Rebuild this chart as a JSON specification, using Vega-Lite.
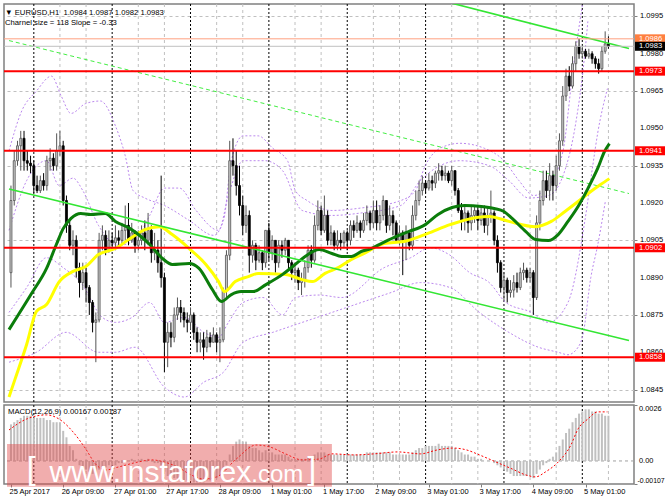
{
"$schema":"https://vega.github.io/schema/vega-lite/v6.json",
"padding":{"left":2,"top":2,"right":0,"bottom":0},
"background":"white",
"spacing":3,
"bounds":"flush",
"config":{"view":{"stroke":"#808080","strokeWidth":1.5},"font":"Liberation Sans",
"axis":{"labelFont":"Liberation Sans","labelColor":"#000","domain":false,"tickColor":"#808080","tickSize":3,"labelFontSize":7.6,"title":null}},
"datasets":{
"candles":[
{"i":0,"o":1.0892,"h":1.0927,"l":1.0886,"c":1.0921,"m":0.0017},
{"i":1,"o":1.0921,"h":1.0941,"l":1.0919,"c":1.0937,"m":0.0018},
{"i":2,"o":1.0937,"h":1.0945,"l":1.0935,"c":1.0943,"m":0.0019},
{"i":3,"o":1.0943,"h":1.0949,"l":1.0933,"c":1.0946,"m":0.0020},
{"i":4,"o":1.0946,"h":1.0949,"l":1.0933,"c":1.0937,"m":0.0021},
{"i":5,"o":1.0937,"h":1.0941,"l":1.0933,"c":1.0936,"m":0.0021},
{"i":6,"o":1.0936,"h":1.0939,"l":1.0932,"c":1.0935,"m":0.0021},
{"i":7,"o":1.0935,"h":1.0937,"l":1.0924,"c":1.0927,"m":0.0020},
{"i":8,"o":1.0927,"h":1.0931,"l":1.0924,"c":1.0925,"m":0.0020},
{"i":9,"o":1.0925,"h":1.0931,"l":1.0924,"c":1.0929,"m":0.0020},
{"i":10,"o":1.0929,"h":1.0932,"l":1.0925,"c":1.0927,"m":0.0020},
{"i":11,"o":1.0927,"h":1.0939,"l":1.0925,"c":1.0937,"m":0.0019},
{"i":12,"o":1.0937,"h":1.0942,"l":1.0933,"c":1.0938,"m":0.0019},
{"i":13,"o":1.0938,"h":1.0940,"l":1.0933,"c":1.0935,"m":0.0018},
{"i":14,"o":1.0935,"h":1.0948,"l":1.0933,"c":1.0941,"m":0.0018},
{"i":15,"o":1.0941,"h":1.0949,"l":1.0939,"c":1.0943,"m":0.0018},
{"i":16,"o":1.0943,"h":1.0945,"l":1.0919,"c":1.0921,"m":0.0014},
{"i":17,"o":1.0921,"h":1.0923,"l":1.0908,"c":1.0911,"m":0.0011},
{"i":18,"o":1.0911,"h":1.0913,"l":1.0901,"c":1.0903,"m":0.0007},
{"i":19,"o":1.0903,"h":1.0909,"l":1.0899,"c":1.0905,"m":0.0005},
{"i":20,"o":1.0905,"h":1.0907,"l":1.0890,"c":1.0894,"m":0.0001},
{"i":21,"o":1.0894,"h":1.0896,"l":1.0882,"c":1.0888,"m":-0.0002},
{"i":22,"o":1.0888,"h":1.0896,"l":1.0885,"c":1.0892,"m":-0.0003},
{"i":23,"o":1.0892,"h":1.0894,"l":1.0880,"c":1.0886,"m":-0.0004},
{"i":24,"o":1.0886,"h":1.0887,"l":1.0875,"c":1.0880,"m":-0.0005},
{"i":25,"o":1.0880,"h":1.0881,"l":1.0868,"c":1.0872,"m":-0.0006},
{"i":26,"o":1.0872,"h":1.0876,"l":1.0856,"c":1.0873,"m":-0.0006},
{"i":27,"o":1.0873,"h":1.0908,"l":1.0872,"c":1.0905,"m":-0.0004},
{"i":28,"o":1.0905,"h":1.0911,"l":1.0901,"c":1.0907,"m":-0.0003},
{"i":29,"o":1.0907,"h":1.0909,"l":1.0899,"c":1.0901,"m":-0.0003},
{"i":30,"o":1.0901,"h":1.0909,"l":1.0900,"c":1.0905,"m":-0.0002},
{"i":31,"o":1.0905,"h":1.0908,"l":1.0901,"c":1.0904,"m":-0.0002},
{"i":32,"o":1.0904,"h":1.0911,"l":1.0901,"c":1.0906,"m":-0.0002},
{"i":33,"o":1.0906,"h":1.0909,"l":1.0902,"c":1.0905,"m":-0.0001},
{"i":34,"o":1.0905,"h":1.0912,"l":1.0903,"c":1.0909,"m":-0.0001},
{"i":35,"o":1.0909,"h":1.0919,"l":1.0905,"c":1.0911,"m":0},
{"i":36,"o":1.0911,"h":1.0920,"l":1.0903,"c":1.0905,"m":0},
{"i":37,"o":1.0905,"h":1.0912,"l":1.0904,"c":1.0908,"m":0.0001},
{"i":38,"o":1.0908,"h":1.0909,"l":1.0900,"c":1.0903,"m":0},
{"i":39,"o":1.0903,"h":1.0909,"l":1.0901,"c":1.0905,"m":0},
{"i":40,"o":1.0905,"h":1.0911,"l":1.0903,"c":1.0908,"m":0.0001},
{"i":41,"o":1.0908,"h":1.0913,"l":1.0901,"c":1.0905,"m":0},
{"i":42,"o":1.0905,"h":1.0916,"l":1.0903,"c":1.0909,"m":0.0001},
{"i":43,"o":1.0909,"h":1.0911,"l":1.0896,"c":1.0900,"m":0},
{"i":44,"o":1.0900,"h":1.0908,"l":1.0897,"c":1.0901,"m":-0.0001},
{"i":45,"o":1.0901,"h":1.0905,"l":1.0892,"c":1.0896,"m":-0.0001},
{"i":46,"o":1.0896,"h":1.0931,"l":1.0886,"c":1.0890,"m":-0.0002},
{"i":47,"o":1.0890,"h":1.0892,"l":1.0852,"c":1.0864,"m":-0.0005},
{"i":48,"o":1.0864,"h":1.0872,"l":1.0854,"c":1.0868,"m":-0.0007},
{"i":49,"o":1.0868,"h":1.0872,"l":1.0862,"c":1.0866,"m":-0.0008},
{"i":50,"o":1.0866,"h":1.0878,"l":1.0864,"c":1.0875,"m":-0.0008},
{"i":51,"o":1.0875,"h":1.0882,"l":1.0873,"c":1.0878,"m":-0.0008},
{"i":52,"o":1.0878,"h":1.0881,"l":1.0872,"c":1.0876,"m":-0.0009},
{"i":53,"o":1.0876,"h":1.0878,"l":1.0870,"c":1.0873,"m":-0.0009},
{"i":54,"o":1.0873,"h":1.0876,"l":1.0868,"c":1.0872,"m":-0.0009},
{"i":55,"o":1.0872,"h":1.0878,"l":1.0869,"c":1.0875,"m":-0.0009},
{"i":56,"o":1.0875,"h":1.0876,"l":1.0865,"c":1.0868,"m":-0.0010},
{"i":57,"o":1.0868,"h":1.0870,"l":1.0860,"c":1.0864,"m":-0.0010},
{"i":58,"o":1.0864,"h":1.0868,"l":1.0860,"c":1.0865,"m":-0.0010},
{"i":59,"o":1.0865,"h":1.0868,"l":1.0857,"c":1.0862,"m":-0.0010},
{"i":60,"o":1.0862,"h":1.0869,"l":1.0860,"c":1.0866,"m":-0.0009},
{"i":61,"o":1.0866,"h":1.0868,"l":1.0862,"c":1.0864,"m":-0.0009},
{"i":62,"o":1.0864,"h":1.0870,"l":1.0864,"c":1.0867,"m":-0.0008},
{"i":63,"o":1.0867,"h":1.0868,"l":1.0860,"c":1.0864,"m":-0.0008},
{"i":64,"o":1.0864,"h":1.0870,"l":1.0856,"c":1.0865,"m":-0.0007},
{"i":65,"o":1.0865,"h":1.0886,"l":1.0864,"c":1.0885,"m":-0.0005},
{"i":66,"o":1.0885,"h":1.0901,"l":1.0882,"c":1.0899,"m":-0.0002},
{"i":67,"o":1.0899,"h":1.0945,"l":1.0897,"c":1.0937,"m":0.0003},
{"i":68,"o":1.0937,"h":1.0946,"l":1.0931,"c":1.0935,"m":0.0007},
{"i":69,"o":1.0935,"h":1.0941,"l":1.0923,"c":1.0927,"m":0.0009},
{"i":70,"o":1.0927,"h":1.0935,"l":1.0915,"c":1.0919,"m":0.0010},
{"i":71,"o":1.0919,"h":1.0923,"l":1.0907,"c":1.0911,"m":0.0009},
{"i":72,"o":1.0911,"h":1.0919,"l":1.0908,"c":1.0915,"m":0.0009},
{"i":73,"o":1.0915,"h":1.0917,"l":1.0892,"c":1.0899,"m":0.0007},
{"i":74,"o":1.0899,"h":1.0905,"l":1.0896,"c":1.0903,"m":0.0006},
{"i":75,"o":1.0903,"h":1.0904,"l":1.0893,"c":1.0897,"m":0.0006},
{"i":76,"o":1.0897,"h":1.0903,"l":1.0896,"c":1.0900,"m":0.0005},
{"i":77,"o":1.0900,"h":1.0901,"l":1.0893,"c":1.0896,"m":0.0004},
{"i":78,"o":1.0896,"h":1.0909,"l":1.0894,"c":1.0909,"m":0.0005},
{"i":79,"o":1.0909,"h":1.0912,"l":1.0897,"c":1.0900,"m":0.0004},
{"i":80,"o":1.0900,"h":1.0907,"l":1.0897,"c":1.0905,"m":0.0004},
{"i":81,"o":1.0905,"h":1.0905,"l":1.0892,"c":1.0896,"m":0.0003},
{"i":82,"o":1.0896,"h":1.0905,"l":1.0894,"c":1.0903,"m":0.0003},
{"i":83,"o":1.0903,"h":1.0905,"l":1.0898,"c":1.0901,"m":0.0003},
{"i":84,"o":1.0901,"h":1.0906,"l":1.0899,"c":1.0905,"m":0.0003},
{"i":85,"o":1.0905,"h":1.0905,"l":1.0893,"c":1.0896,"m":0.0002},
{"i":86,"o":1.0896,"h":1.0897,"l":1.0889,"c":1.0892,"m":0.0001},
{"i":87,"o":1.0892,"h":1.0896,"l":1.0888,"c":1.0893,"m":0.0001},
{"i":88,"o":1.0893,"h":1.0894,"l":1.0885,"c":1.0888,"m":0.0001},
{"i":89,"o":1.0888,"h":1.0892,"l":1.0883,"c":1.0889,"m":0.0001},
{"i":90,"o":1.0889,"h":1.0897,"l":1.0886,"c":1.0894,"m":0.0001},
{"i":91,"o":1.0894,"h":1.0903,"l":1.0892,"c":1.0901,"m":0.0002},
{"i":92,"o":1.0901,"h":1.0903,"l":1.0894,"c":1.0897,"m":0.0002},
{"i":93,"o":1.0897,"h":1.0915,"l":1.0896,"c":1.0911,"m":0.0003},
{"i":94,"o":1.0911,"h":1.0921,"l":1.0909,"c":1.0917,"m":0.0004},
{"i":95,"o":1.0917,"h":1.0919,"l":1.0907,"c":1.0909,"m":0.0004},
{"i":96,"o":1.0909,"h":1.0923,"l":1.0908,"c":1.0915,"m":0.0004},
{"i":97,"o":1.0915,"h":1.0917,"l":1.0903,"c":1.0905,"m":0.0003},
{"i":98,"o":1.0905,"h":1.0911,"l":1.0903,"c":1.0908,"m":0.0003},
{"i":99,"o":1.0908,"h":1.0909,"l":1.0901,"c":1.0903,"m":0.0003},
{"i":100,"o":1.0903,"h":1.0909,"l":1.0901,"c":1.0905,"m":0.0003},
{"i":101,"o":1.0905,"h":1.0908,"l":1.0901,"c":1.0904,"m":0.0003},
{"i":102,"o":1.0904,"h":1.0909,"l":1.0902,"c":1.0908,"m":0.0003},
{"i":103,"o":1.0908,"h":1.0909,"l":1.0901,"c":1.0905,"m":0.0003},
{"i":104,"o":1.0905,"h":1.0913,"l":1.0903,"c":1.0911,"m":0.0003},
{"i":105,"o":1.0911,"h":1.0913,"l":1.0906,"c":1.0909,"m":0.0003},
{"i":106,"o":1.0909,"h":1.0915,"l":1.0908,"c":1.0912,"m":0.0003},
{"i":107,"o":1.0912,"h":1.0913,"l":1.0906,"c":1.0909,"m":0.0003},
{"i":108,"o":1.0909,"h":1.0916,"l":1.0908,"c":1.0913,"m":0.0003},
{"i":109,"o":1.0913,"h":1.0919,"l":1.0911,"c":1.0916,"m":0.0004},
{"i":110,"o":1.0916,"h":1.0917,"l":1.0909,"c":1.0912,"m":0.0004},
{"i":111,"o":1.0912,"h":1.0921,"l":1.0910,"c":1.0917,"m":0.0004},
{"i":112,"o":1.0917,"h":1.0921,"l":1.0909,"c":1.0912,"m":0.0004},
{"i":113,"o":1.0912,"h":1.0919,"l":1.0909,"c":1.0915,"m":0.0004},
{"i":114,"o":1.0915,"h":1.0923,"l":1.0913,"c":1.0921,"m":0.0004},
{"i":115,"o":1.0921,"h":1.0921,"l":1.0908,"c":1.0911,"m":0.0004},
{"i":116,"o":1.0911,"h":1.0919,"l":1.0909,"c":1.0915,"m":0.0004},
{"i":117,"o":1.0915,"h":1.0917,"l":1.0907,"c":1.0912,"m":0.0003},
{"i":118,"o":1.0912,"h":1.0913,"l":1.0904,"c":1.0905,"m":0.0003},
{"i":119,"o":1.0905,"h":1.0911,"l":1.0903,"c":1.0908,"m":0.0003},
{"i":120,"o":1.0908,"h":1.0909,"l":1.0891,"c":1.0905,"m":0.0003},
{"i":121,"o":1.0905,"h":1.0911,"l":1.0897,"c":1.0908,"m":0.0003},
{"i":122,"o":1.0908,"h":1.0909,"l":1.0901,"c":1.0903,"m":0.0003},
{"i":123,"o":1.0903,"h":1.0919,"l":1.0901,"c":1.0915,"m":0.0004},
{"i":124,"o":1.0915,"h":1.0925,"l":1.0913,"c":1.0921,"m":0.0005},
{"i":125,"o":1.0921,"h":1.0929,"l":1.0919,"c":1.0925,"m":0.0006},
{"i":126,"o":1.0925,"h":1.0931,"l":1.0923,"c":1.0928,"m":0.0006},
{"i":127,"o":1.0928,"h":1.0929,"l":1.0924,"c":1.0926,"m":0.0007},
{"i":128,"o":1.0926,"h":1.0932,"l":1.0925,"c":1.0929,"m":0.0007},
{"i":129,"o":1.0929,"h":1.0931,"l":1.0925,"c":1.0928,"m":0.0007},
{"i":130,"o":1.0928,"h":1.0933,"l":1.0926,"c":1.0932,"m":0.0007},
{"i":131,"o":1.0932,"h":1.0936,"l":1.0929,"c":1.0933,"m":0.0008},
{"i":132,"o":1.0933,"h":1.0935,"l":1.0929,"c":1.0931,"m":0.0007},
{"i":133,"o":1.0931,"h":1.0935,"l":1.0929,"c":1.0932,"m":0.0007},
{"i":134,"o":1.0932,"h":1.0933,"l":1.0928,"c":1.0929,"m":0.0007},
{"i":135,"o":1.0929,"h":1.0935,"l":1.0927,"c":1.0933,"m":0.0007},
{"i":136,"o":1.0933,"h":1.0933,"l":1.0923,"c":1.0925,"m":0.0006},
{"i":137,"o":1.0925,"h":1.0926,"l":1.0916,"c":1.0917,"m":0.0005},
{"i":138,"o":1.0917,"h":1.0920,"l":1.0909,"c":1.0913,"m":0.0004},
{"i":139,"o":1.0913,"h":1.0919,"l":1.0909,"c":1.0916,"m":0.0003},
{"i":140,"o":1.0916,"h":1.0917,"l":1.0908,"c":1.0912,"m":0.0003},
{"i":141,"o":1.0912,"h":1.0919,"l":1.0909,"c":1.0915,"m":0.0002},
{"i":142,"o":1.0915,"h":1.0919,"l":1.0912,"c":1.0917,"m":0.0002},
{"i":143,"o":1.0917,"h":1.0919,"l":1.0909,"c":1.0913,"m":0.0001},
{"i":144,"o":1.0913,"h":1.0919,"l":1.0911,"c":1.0916,"m":0.0001},
{"i":145,"o":1.0916,"h":1.0919,"l":1.0908,"c":1.0911,"m":0},
{"i":146,"o":1.0911,"h":1.0918,"l":1.0907,"c":1.0915,"m":0},
{"i":147,"o":1.0915,"h":1.0925,"l":1.0912,"c":1.0916,"m":0},
{"i":148,"o":1.0916,"h":1.0917,"l":1.0903,"c":1.0905,"m":-0.0001},
{"i":149,"o":1.0905,"h":1.0907,"l":1.0892,"c":1.0896,"m":-0.0002},
{"i":150,"o":1.0896,"h":1.0897,"l":1.0884,"c":1.0886,"m":-0.0003},
{"i":151,"o":1.0886,"h":1.0892,"l":1.0881,"c":1.0889,"m":-0.0004},
{"i":152,"o":1.0889,"h":1.0890,"l":1.0880,"c":1.0884,"m":-0.0005},
{"i":153,"o":1.0884,"h":1.0889,"l":1.0882,"c":1.0885,"m":-0.0006},
{"i":154,"o":1.0885,"h":1.0891,"l":1.0882,"c":1.0888,"m":-0.0007},
{"i":155,"o":1.0888,"h":1.0892,"l":1.0884,"c":1.0886,"m":-0.0007},
{"i":156,"o":1.0886,"h":1.0894,"l":1.0885,"c":1.0892,"m":-0.0007},
{"i":157,"o":1.0892,"h":1.0896,"l":1.0889,"c":1.0893,"m":-0.0007},
{"i":158,"o":1.0893,"h":1.0894,"l":1.0888,"c":1.0890,"m":-0.0007},
{"i":159,"o":1.0890,"h":1.0894,"l":1.0888,"c":1.0892,"m":-0.0007},
{"i":160,"o":1.0892,"h":1.0893,"l":1.0875,"c":1.0882,"m":-0.0008},
{"i":161,"o":1.0882,"h":1.0915,"l":1.0881,"c":1.0912,"m":-0.0006},
{"i":162,"o":1.0912,"h":1.0925,"l":1.0909,"c":1.0921,"m":-0.0004},
{"i":163,"o":1.0921,"h":1.0933,"l":1.0919,"c":1.0929,"m":-0.0002},
{"i":164,"o":1.0929,"h":1.0933,"l":1.0922,"c":1.0925,"m":-0.0001},
{"i":165,"o":1.0925,"h":1.0936,"l":1.0921,"c":1.0931,"m":0.0001},
{"i":166,"o":1.0931,"h":1.0933,"l":1.0921,"c":1.0927,"m":0.0002},
{"i":167,"o":1.0927,"h":1.0939,"l":1.0925,"c":1.0935,"m":0.0004},
{"i":168,"o":1.0935,"h":1.0948,"l":1.0933,"c":1.0945,"m":0.0007},
{"i":169,"o":1.0945,"h":1.0967,"l":1.0943,"c":1.0963,"m":0.0010},
{"i":170,"o":1.0963,"h":1.0974,"l":1.0961,"c":1.0971,"m":0.0013},
{"i":171,"o":1.0971,"h":1.0975,"l":1.0965,"c":1.0967,"m":0.0015},
{"i":172,"o":1.0967,"h":1.0979,"l":1.0966,"c":1.0976,"m":0.0018},
{"i":173,"o":1.0976,"h":1.0985,"l":1.0973,"c":1.0983,"m":0.0020},
{"i":174,"o":1.0983,"h":1.0986,"l":1.0978,"c":1.0980,"m":0.0022},
{"i":175,"o":1.0980,"h":1.0983,"l":1.0978,"c":1.0981,"m":0.0023},
{"i":176,"o":1.0981,"h":1.0982,"l":1.0978,"c":1.0979,"m":0.0024},
{"i":177,"o":1.0979,"h":1.0982,"l":1.0978,"c":1.0980,"m":0.0024},
{"i":178,"o":1.0980,"h":1.0981,"l":1.0976,"c":1.0978,"m":0.0023},
{"i":179,"o":1.0978,"h":1.0979,"l":1.0974,"c":1.0976,"m":0.0023},
{"i":180,"o":1.0976,"h":1.0978,"l":1.0972,"c":1.0974,"m":0.0022},
{"i":181,"o":1.0974,"h":1.0983,"l":1.0973,"c":1.0981,"m":0.0022},
{"i":182,"o":1.0981,"h":1.0989,"l":1.0980,"c":1.0984,"m":0.0021},
{"i":183,"o":1.0984,"h":1.0987,"l":1.0982,"c":1.0983,"m":0.0021}
],
"vg":[{"i":7},{"i":15},{"i":23},{"i":31},{"i":39},{"i":47},{"i":55},{"i":63},{"i":71},{"i":79},{"i":87},{"i":95},{"i":103},{"i":111},{"i":119},{"i":127},{"i":135},{"i":143},{"i":151},{"i":159},{"i":167},{"i":175},{"i":183}],
"yt":[{"v":1.0845},{"v":1.086},{"v":1.0875},{"v":1.089},{"v":1.0905},{"v":1.092},{"v":1.0935},{"v":1.095},{"v":1.0965},{"v":1.098},{"v":1.0995}],
"mtop":[{"v":0.0026,"t":"0.0026"}],
"mmid":[{"v":0,"t":"0.00"}],
"mbot":[{"v":-0.00107,"t":"-0.00107"}],
"lv":[{"p":1.0973},{"p":1.0941},{"p":1.0902},{"p":1.0858}],
"px":[{"k":"ask","p":1.0986},{"k":"bid","p":1.0983}],
"ch":[{"s":"low","i":-0.6,"p":1.09256},{"s":"low","i":189.3,"p":1.08647},{"s":"up","i":133,"p":1.1001},{"s":"up","i":189.3,"p":1.09821}],
"chd":[{"i":-0.6,"p":1.09853},{"i":189.3,"p":1.09238}],
"ma1":[{"i":-0.6,"p":1.08691},{"i":6.3,"p":1.08836},{"i":10.9,"p":1.08937},{"i":13.9,"p":1.09033},{"i":16.0,"p":1.09097},{"i":18.4,"p":1.09138},{"i":21.4,"p":1.09158},{"i":24.4,"p":1.09154},{"i":28.9,"p":1.09158},{"i":32.0,"p":1.09126},{"i":36.5,"p":1.09097},{"i":42.5,"p":1.09033},{"i":46.4,"p":1.08977},{"i":49.4,"p":1.08953},{"i":54.6,"p":1.08957},{"i":57.6,"p":1.08937},{"i":61.5,"p":1.08856},{"i":64.5,"p":1.08804},{"i":67.5,"p":1.08832},{"i":70.5,"p":1.08844},{"i":74.2,"p":1.08844},{"i":78.1,"p":1.08872},{"i":83.2,"p":1.08913},{"i":87.1,"p":1.08953},{"i":90.1,"p":1.08985},{"i":94.4,"p":1.09013},{"i":98.3,"p":1.08997},{"i":101.3,"p":1.08985},{"i":104.3,"p":1.08985},{"i":107.3,"p":1.09005},{"i":110.3,"p":1.09017},{"i":113.4,"p":1.09037},{"i":117.9,"p":1.09065},{"i":121.8,"p":1.09085},{"i":126.9,"p":1.09113},{"i":130.8,"p":1.09154},{"i":135.1,"p":1.09182},{"i":139.0,"p":1.0919},{"i":144.1,"p":1.09186},{"i":148.0,"p":1.09178},{"i":151.0,"p":1.09166},{"i":153.5,"p":1.09138},{"i":157.7,"p":1.09085},{"i":160.7,"p":1.09053},{"i":164.6,"p":1.09049},{"i":167.6,"p":1.09073},{"i":170.6,"p":1.09126},{"i":173.7,"p":1.09186},{"i":176.7,"p":1.09258},{"i":179.7,"p":1.09339},{"i":181.8,"p":1.09407},{"i":183.3,"p":1.09439}],
"ma2":[{"i":-0.6,"p":1.0842},{"i":1.2,"p":1.0849},{"i":4.8,"p":1.08631},{"i":7.8,"p":1.08764},{"i":10.9,"p":1.08792},{"i":14.8,"p":1.08884},{"i":19.0,"p":1.08925},{"i":22.9,"p":1.08945},{"i":26.8,"p":1.08993},{"i":32.0,"p":1.09017},{"i":36.5,"p":1.09057},{"i":41.0,"p":1.09093},{"i":45.5,"p":1.09105},{"i":49.4,"p":1.09073},{"i":54.6,"p":1.09017},{"i":59.7,"p":1.08953},{"i":63.6,"p":1.08884},{"i":65.4,"p":1.08844},{"i":68.7,"p":1.08884},{"i":72.7,"p":1.08904},{"i":75.7,"p":1.08917},{"i":84.1,"p":1.08913},{"i":89.2,"p":1.08892},{"i":92.3,"p":1.08884},{"i":96.2,"p":1.08917},{"i":100.4,"p":1.08941},{"i":104.3,"p":1.08973},{"i":108.2,"p":1.08997},{"i":114.3,"p":1.09037},{"i":120.3,"p":1.09045},{"i":127.5,"p":1.09077},{"i":134.5,"p":1.09113},{"i":142.6,"p":1.09142},{"i":146.5,"p":1.09146},{"i":152.5,"p":1.09126},{"i":160.7,"p":1.09105},{"i":165.5,"p":1.09126},{"i":169.7,"p":1.09166},{"i":173.7,"p":1.09206},{"i":177.6,"p":1.09246},{"i":180.6,"p":1.09274},{"i":183.3,"p":1.09298}],
"bands":[
{"s":"u1","i":-0.6,"p":1.0941},{"s":"u1","i":3.3,"p":1.0957},{"s":"u1","i":7.8,"p":1.0965},{"s":"u1","i":12.4,"p":1.0971},{"s":"u1","i":15.4,"p":1.0963},{"s":"u1","i":18.4,"p":1.0956},{"s":"u1","i":22.9,"p":1.096},{"s":"u1","i":27.4,"p":1.0961},{"s":"u1","i":32.0,"p":1.0951},{"s":"u1","i":35.0,"p":1.0939},{"s":"u1","i":37.4,"p":1.0925},{"s":"u1","i":41.0,"p":1.0922},{"s":"u1","i":47.0,"p":1.0919},{"s":"u1","i":54.6,"p":1.0913},{"s":"u1","i":62.1,"p":1.0907},{"s":"u1","i":65.1,"p":1.0913},{"s":"u1","i":67.5,"p":1.0937},{"s":"u1","i":71.1,"p":1.0947},{"s":"u1","i":75.7,"p":1.0947},{"s":"u1","i":80.2,"p":1.0942},{"s":"u1","i":84.7,"p":1.0937},{"s":"u1","i":87.1,"p":1.0925},{"s":"u1","i":90.7,"p":1.0921},{"s":"u1","i":98.3,"p":1.0917},{"s":"u1","i":107.3,"p":1.0918},{"s":"u1","i":119.4,"p":1.0921},{"s":"u1","i":123.9,"p":1.0925},{"s":"u1","i":126.9,"p":1.0935},{"s":"u1","i":131.4,"p":1.0942},{"s":"u1","i":137.5,"p":1.0944},{"s":"u1","i":145.0,"p":1.0942},{"s":"u1","i":151.0,"p":1.0937},{"s":"u1","i":155.6,"p":1.0929},{"s":"u1","i":160.1,"p":1.0923},{"s":"u1","i":164.6,"p":1.0927},{"s":"u1","i":169.1,"p":1.0941},{"s":"u1","i":172.1,"p":1.0973},{"s":"u1","i":175.2,"p":1.1001},{"s":"u1","i":177.3,"p":1.1017},
{"s":"u2","i":-0.6,"p":1.0909},{"s":"u2","i":4.8,"p":1.0929},{"s":"u2","i":10.9,"p":1.0937},{"s":"u2","i":14.8,"p":1.0927},{"s":"u2","i":19.0,"p":1.093},{"s":"u2","i":22.0,"p":1.0925},{"s":"u2","i":26.8,"p":1.0911},{"s":"u2","i":32.9,"p":1.0903},{"s":"u2","i":38.0,"p":1.0905},{"s":"u2","i":42.5,"p":1.0915},{"s":"u2","i":47.0,"p":1.0926},{"s":"u2","i":51.6,"p":1.0926},{"s":"u2","i":56.7,"p":1.0917},{"s":"u2","i":63.6,"p":1.0909},{"s":"u2","i":66.6,"p":1.0923},{"s":"u2","i":71.1,"p":1.0937},{"s":"u2","i":77.8,"p":1.0937},{"s":"u2","i":83.2,"p":1.0933},{"s":"u2","i":89.2,"p":1.0917},{"s":"u2","i":98.3,"p":1.0915},{"s":"u2","i":107.3,"p":1.0916},{"s":"u2","i":119.4,"p":1.0919},{"s":"u2","i":125.4,"p":1.0929},{"s":"u2","i":131.4,"p":1.0935},{"s":"u2","i":137.5,"p":1.0937},{"s":"u2","i":146.5,"p":1.0935},{"s":"u2","i":152.5,"p":1.0929},{"s":"u2","i":158.6,"p":1.0922},{"s":"u2","i":164.6,"p":1.0923},{"s":"u2","i":169.1,"p":1.0931},{"s":"u2","i":173.1,"p":1.0953},{"s":"u2","i":175.2,"p":1.0973},{"s":"u2","i":176.7,"p":1.0993},
{"s":"l2","i":-0.6,"p":1.0876},{"s":"l2","i":4.8,"p":1.0886},{"s":"l2","i":10.9,"p":1.0898},{"s":"l2","i":16.0,"p":1.0894},{"s":"l2","i":21.4,"p":1.0888},{"s":"l2","i":28.0,"p":1.0874},{"s":"l2","i":32.0,"p":1.0872},{"s":"l2","i":37.1,"p":1.0874},{"s":"l2","i":42.5,"p":1.088},{"s":"l2","i":47.0,"p":1.0872},{"s":"l2","i":53.1,"p":1.0874},{"s":"l2","i":59.1,"p":1.0868},{"s":"l2","i":63.6,"p":1.0866},{"s":"l2","i":66.6,"p":1.0872},{"s":"l2","i":71.1,"p":1.088},{"s":"l2","i":77.2,"p":1.0882},{"s":"l2","i":83.2,"p":1.0875},{"s":"l2","i":87.1,"p":1.0882},{"s":"l2","i":94.4,"p":1.0883},{"s":"l2","i":101.3,"p":1.0882},{"s":"l2","i":114.3,"p":1.0894},{"s":"l2","i":122.4,"p":1.0898},{"s":"l2","i":128.4,"p":1.0902},{"s":"l2","i":134.5,"p":1.0899},{"s":"l2","i":140.5,"p":1.0892},{"s":"l2","i":146.5,"p":1.0888},{"s":"l2","i":151.6,"p":1.088},{"s":"l2","i":159.5,"p":1.0876},{"s":"l2","i":164.6,"p":1.0872},{"s":"l2","i":170.6,"p":1.088},{"s":"l2","i":175.8,"p":1.0913},{"s":"l2","i":178.2,"p":1.0935},{"s":"l2","i":179.7,"p":1.0948},{"s":"l2","i":182.7,"p":1.0966},
{"s":"l1","i":-0.6,"p":1.0856},{"s":"l1","i":7.8,"p":1.086},{"s":"l1","i":16.9,"p":1.0868},{"s":"l1","i":26.8,"p":1.086},{"s":"l1","i":32.0,"p":1.086},{"s":"l1","i":38.0,"p":1.0862},{"s":"l1","i":47.0,"p":1.0846},{"s":"l1","i":53.1,"p":1.0842},{"s":"l1","i":59.1,"p":1.0848},{"s":"l1","i":65.1,"p":1.0852},{"s":"l1","i":71.1,"p":1.0864},{"s":"l1","i":80.2,"p":1.0868},{"s":"l1","i":89.2,"p":1.0872},{"s":"l1","i":98.3,"p":1.0876},{"s":"l1","i":107.3,"p":1.088},{"s":"l1","i":116.4,"p":1.0884},{"s":"l1","i":125.4,"p":1.0888},{"s":"l1","i":134.5,"p":1.0886},{"s":"l1","i":143.5,"p":1.0876},{"s":"l1","i":152.5,"p":1.0868},{"s":"l1","i":161.6,"p":1.0862},{"s":"l1","i":167.6,"p":1.086},{"s":"l1","i":170.6,"p":1.0859},{"s":"l1","i":173.7,"p":1.0862},{"s":"l1","i":175.2,"p":1.0867},{"s":"l1","i":177.6,"p":1.089},{"s":"l1","i":179.7,"p":1.0903},{"s":"l1","i":182.1,"p":1.0921}
],
"sig":[{"i":-0.6,"v":0.00144},{"i":4.8,"v":0.00195},{"i":10.9,"v":0.00214},{"i":16.0,"v":0.00181},{"i":19.0,"v":0.00135},{"i":22.9,"v":0.00056},{"i":25.9,"v":-0.00014},{"i":28.9,"v":-0.00042},{"i":32.9,"v":-0.00028},{"i":38.9,"v":-0.00005},{"i":43.1,"v":0.00005},{"i":47.0,"v":-0.00005},{"i":51.0,"v":-0.00028},{"i":55.2,"v":-0.00065},{"i":59.1,"v":-0.00084},{"i":63.0,"v":-0.00074},{"i":69.0,"v":0.00009},{"i":75.1,"v":0.00074},{"i":79.3,"v":0.00065},{"i":84.1,"v":0.00033},{"i":89.2,"v":0.00005},{"i":94.4,"v":0.00009},{"i":98.3,"v":0.00033},{"i":105.2,"v":0.00028},{"i":111.2,"v":0.00033},{"i":118.5,"v":0.00042},{"i":125.4,"v":0.00033},{"i":130.5,"v":0.00051},{"i":135.4,"v":0.0006},{"i":139.6,"v":0.00051},{"i":143.5,"v":0.00028},{"i":148.6,"v":-0.00005},{"i":153.5,"v":-0.00037},{"i":157.7,"v":-0.00065},{"i":160.7,"v":-0.00074},{"i":163.7,"v":-0.00051},{"i":167.6,"v":-0.00005},{"i":171.5,"v":0.00074},{"i":173.7,"v":0.00149},{"i":176.7,"v":0.00195},{"i":179.7,"v":0.00228},{"i":182.7,"v":0.00228}],
"one":[{}]
},
"vconcat":[
{
"width":630,"height":398,
"title":{"text":"▼ EURUSD,H1\u00a0\u00a01.0984 1.0987 1.0982 1.0983","subtitle":"\u00a0\u00a0Charnel size = 118 Slope = -0.33","anchor":"start","frame":"group","offset":-23,"dx":1,"font":"Liberation Sans","subtitleFont":"Liberation Sans","fontSize":7.7,"subtitleFontSize":7.7,"fontWeight":"normal","color":"#000","subtitleColor":"#000","subtitlePadding":2},
"layer":[
{"data":{"name":"vg"},"mark":{"type":"rule","strokeWidth":1},
 "encoding":{"x":{"field":"i","type":"quantitative","scale":{"domain":[-0.6,189.3],"nice":false,"zero":false},"axis":null},
  "color":{"condition":{"test":"(datum.i - 7) % 24 === 0","value":"#000000"},"value":"#c0c0c0"},
  "strokeDash":{"condition":{"test":"(datum.i - 7) % 24 === 0","value":[2,2]},"value":[3,3]}}},
{"data":{"name":"bands"},"mark":{"type":"line","clip":true,"strokeDash":[2,2],"strokeWidth":1,"color":"#bb88ee","interpolate":"monotone"},
 "encoding":{"x":{"field":"i","type":"quantitative"},
  "y":{"field":"p","type":"quantitative","scale":{"domain":[1.084,1.1],"nice":false,"zero":false},
   "axis":{"orient":"right","values":[1.0845,1.086,1.0875,1.089,1.0905,1.092,1.0935,1.095,1.0965,1.098,1.0995],"labels":false,"grid":true,"gridColor":"#c0c0c0","gridDash":[3,3],"tickSize":3}},
  "detail":{"field":"s"}}},
{"data":{"name":"chd"},"mark":{"type":"line","clip":true,"color":"#44ee44","strokeDash":[4,3],"strokeWidth":1},
 "encoding":{"x":{"field":"i","type":"quantitative"},"y":{"field":"p","type":"quantitative"}}},
{"data":{"name":"candles"},"mark":{"type":"rule","strokeWidth":1},
 "encoding":{"x":{"field":"i","type":"quantitative"},"y":{"field":"l","type":"quantitative"},"y2":{"field":"h"},
  "color":{"condition":{"test":"datum.c >= datum.o","value":"#555555"},"value":"#000000"}}},
{"data":{"name":"candles"},"mark":{"type":"bar","size":2,"strokeWidth":0.8},
 "encoding":{"x":{"field":"i","type":"quantitative"},"y":{"field":"o","type":"quantitative"},"y2":{"field":"c"},
  "fill":{"condition":{"test":"datum.c >= datum.o","value":"#c8c8c8"},"value":"#000000"},
  "stroke":{"condition":{"test":"datum.c >= datum.o","value":"#555555"},"value":"#000000"}}},
{"data":{"name":"ma2"},"mark":{"type":"line","clip":true,"color":"#ffff00","strokeWidth":3,"interpolate":"monotone"},
 "encoding":{"x":{"field":"i","type":"quantitative"},"y":{"field":"p","type":"quantitative"}}},
{"data":{"name":"ma1"},"mark":{"type":"line","clip":true,"color":"#0b7d0b","strokeWidth":3,"interpolate":"monotone"},
 "encoding":{"x":{"field":"i","type":"quantitative"},"y":{"field":"p","type":"quantitative"}}},
{"data":{"name":"ch"},"mark":{"type":"line","clip":true,"color":"#33e633","strokeWidth":1.6},
 "encoding":{"x":{"field":"i","type":"quantitative"},"y":{"field":"p","type":"quantitative"},"detail":{"field":"s"}}},
{"data":{"name":"px"},"mark":{"type":"rule","strokeWidth":1},
 "encoding":{"y":{"field":"p","type":"quantitative"},"color":{"field":"k","type":"nominal","scale":{"domain":["ask","bid"],"range":["#ffa080","#c0c0c0"]},"legend":null}}},
{"data":{"name":"lv"},"mark":{"type":"rule","color":"#ff0000","strokeWidth":2},
 "encoding":{"y":{"field":"p","type":"quantitative"}}},
{"data":{"name":"yt"},"mark":{"type":"text","align":"left","baseline":"middle","xOffset":6,"fontSize":7.6,"color":"#000000","font":"Liberation Sans"},
 "encoding":{"x":{"value":"width"},"y":{"field":"v","type":"quantitative"},"text":{"field":"v","type":"quantitative","format":".4f"}}},
{"data":{"name":"lv"},"mark":{"type":"point","shape":"M-1,-0.29L1,-0.29L1,0.29L-1,0.29Z","filled":true,"size":961,"opacity":1,"xOffset":16.5,"strokeWidth":0,"color":"#ff0000"},
 "encoding":{"x":{"value":"width"},"y":{"field":"p","type":"quantitative"}}},
{"data":{"name":"px"},"mark":{"type":"point","shape":"M-1,-0.29L1,-0.29L1,0.29L-1,0.29Z","filled":true,"size":961,"opacity":1,"xOffset":16.5,"strokeWidth":0},
 "encoding":{"x":{"value":"width"},"y":{"field":"p","type":"quantitative"},"fill":{"field":"k","type":"nominal","scale":{"domain":["ask","bid"],"range":["#ff7f40","#000000"]},"legend":null}}},
{"data":{"name":"lv"},"mark":{"type":"text","align":"left","baseline":"middle","xOffset":5,"fontSize":7.6,"color":"#ffffff","font":"Liberation Sans"},
 "encoding":{"x":{"value":"width"},"y":{"field":"p","type":"quantitative"},"text":{"field":"p","type":"quantitative","format":".4f"}}},
{"data":{"name":"px"},"mark":{"type":"text","align":"left","baseline":"middle","xOffset":5,"fontSize":7.6,"color":"#ffffff","font":"Liberation Sans"},
 "encoding":{"x":{"value":"width"},"y":{"field":"p","type":"quantitative"},"text":{"field":"p","type":"quantitative","format":".4f"}}}
]
},
{
"width":630,"height":79,
"title":{"text":"MACD(12,26,9) 0.00167 0.00187","anchor":"start","frame":"group","offset":-11,"dx":4,"font":"Liberation Sans","fontSize":7.7,"fontWeight":"normal","color":"#000"},
"layer":[
{"data":{"name":"vg"},"mark":{"type":"rule","strokeWidth":1},
 "encoding":{"x":{"field":"i","type":"quantitative","scale":{"domain":[-0.6,189.3],"nice":false,"zero":false},
   "axis":{"values":[0,16,32,48,64,80,96,112,128,144,160,176],"labelExpr":"['25 Apr 2017','26 Apr 09:00','27 Apr 01:00','27 Apr 17:00','28 Apr 09:00','1 May 01:00','1 May 17:00','2 May 09:00','3 May 01:00','3 May 17:00','4 May 09:00','5 May 01:00'][round(datum.value/16)]","labelAlign":"left","labelOffset":-2,"labelFontSize":7.5,"tickSize":3,"labelPadding":0,"grid":false,"labelFlush":false,"labelOverlap":false}},
  "color":{"condition":{"test":"(datum.i - 7) % 24 === 0","value":"#000000"},"value":"#c0c0c0"},
  "strokeDash":{"condition":{"test":"(datum.i - 7) % 24 === 0","value":[2,2]},"value":[3,3]}}},
{"data":{"name":"one"},"mark":{"type":"rule","color":"#a0a0a0","strokeDash":[3,3],"strokeWidth":1},"encoding":{"y":{"datum":0,"type":"quantitative"}}},
{"data":{"name":"candles"},"mark":{"type":"bar","size":2,"color":"#c0c0c0"},
 "encoding":{"x":{"field":"i","type":"quantitative"},
  "y":{"field":"m","type":"quantitative","scale":{"domain":[-0.00107,0.0026],"nice":false,"zero":false},
   "axis":{"orient":"right","values":[-0.00107,0,0.0026],"labels":false,"grid":false,"tickSize":3}},
  "y2":{"datum":0}}},
{"data":{"name":"sig"},"mark":{"type":"line","color":"#ff0000","strokeDash":[2,2],"strokeWidth":1,"interpolate":"monotone"},
 "encoding":{"x":{"field":"i","type":"quantitative"},"y":{"field":"v","type":"quantitative"}}},
{"data":{"name":"mtop"},"mark":{"type":"text","align":"left","baseline":"top","xOffset":5,"fontSize":7.4,"color":"#000","font":"Liberation Sans"},
 "encoding":{"x":{"value":"width"},"y":{"field":"v","type":"quantitative"},"text":{"field":"t"}}},
{"data":{"name":"mmid"},"mark":{"type":"text","align":"left","baseline":"middle","xOffset":5,"fontSize":7.4,"color":"#000","font":"Liberation Sans"},
 "encoding":{"x":{"value":"width"},"y":{"field":"v","type":"quantitative"},"text":{"field":"t"}}},
{"data":{"name":"mbot"},"mark":{"type":"text","align":"left","baseline":"bottom","xOffset":3.5,"fontSize":6.9,"color":"#000","font":"Liberation Sans"},
 "encoding":{"x":{"value":"width"},"y":{"field":"v","type":"quantitative"},"text":{"field":"t"}}},
{"data":{"name":"one"},"mark":{"type":"rect","color":"#e04a4a","opacity":0.45},
 "encoding":{"x":{"datum":-1.2,"type":"quantitative"},"x2":{"datum":98.3},"y":{"datum":0.00079,"type":"quantitative"},"y2":{"datum":-0.0012}}},
{"data":{"name":"one"},"mark":{"type":"text","text":"[","fontSize":32,"align":"left","baseline":"alphabetic","color":"#ffffff","font":"Liberation Sans"},
 "encoding":{"x":{"datum":4.8,"type":"quantitative"},"y":{"datum":-0.00085,"type":"quantitative"}}},
{"data":{"name":"one"},"mark":{"type":"text","text":"www.instaforex","fontSize":30,"align":"left","baseline":"alphabetic","color":"#ffffff","font":"Liberation Sans"},
 "encoding":{"x":{"datum":11.8,"type":"quantitative"},"y":{"datum":-0.00098,"type":"quantitative"}}},
{"data":{"name":"one"},"mark":{"type":"text","text":".com","fontSize":24,"align":"left","baseline":"alphabetic","color":"#ffffff","font":"Liberation Sans"},
 "encoding":{"x":{"datum":73.6,"type":"quantitative"},"y":{"datum":-0.00098,"type":"quantitative"}}},
{"data":{"name":"one"},"mark":{"type":"text","text":"]","fontSize":32,"align":"left","baseline":"alphabetic","color":"#ffffff","font":"Liberation Sans"},
 "encoding":{"x":{"datum":90.75,"type":"quantitative"},"y":{"datum":-0.00085,"type":"quantitative"}}}
]
}
]
}
